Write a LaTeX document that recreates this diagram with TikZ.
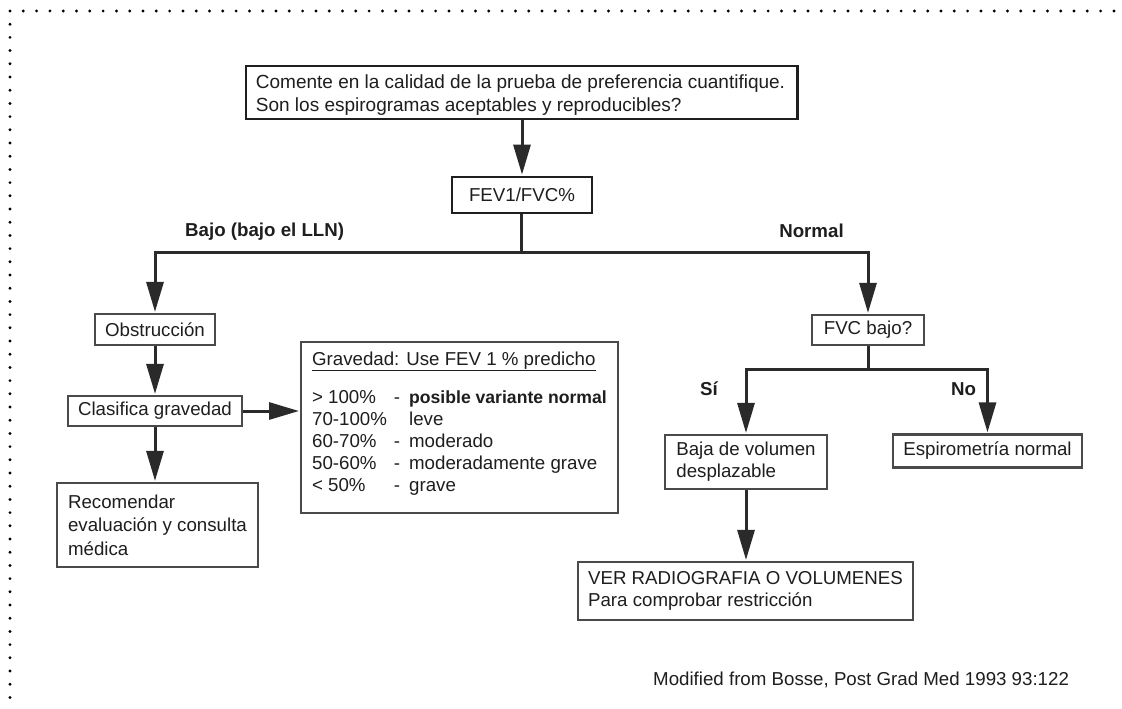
\documentclass[tikz,border=0pt]{standalone}
\usepackage{fontspec}
\setmainfont{Liberation Sans}
\usetikzlibrary{arrows.meta}
\definecolor{ink}{HTML}{1E1E1E}
\definecolor{frame}{HTML}{4A4A4A}
\definecolor{wire}{HTML}{2A2A2A}
\newcommand{\txtsize}{\fontsize{18.7}{22}\selectfont}
\newcommand{\loosesize}{\fontsize{18.7}{23.5}\selectfont}
\newcommand{\topsize}{\fontsize{19}{23}\selectfont}
\tikzset{
  box/.style={draw=frame, line width=2.2pt, fill=white, text=ink,
    font=\txtsize, inner xsep=10pt, inner ysep=0pt, rectangle},
  mainbox/.style={box, draw=black!88, line width=2.8pt},
  wireline/.style={draw=wire, line width=3pt, line join=miter},
  arrowline/.style={wireline, -{Triangle[length=30pt,width=17pt]}, shorten >=1pt},
  branchlabel/.style={text=ink, font=\txtsize\bfseries, inner sep=0pt},
  dotmark/.style={fill=black, draw=none}
}
\begin{document}
\begin{tikzpicture}[x=1pt,y=-1pt]
\useasboundingbox (0,0) rectangle (1122,709);
\fill[white] (0,0) rectangle (1122,709);

% dotted frame along the top and the left side
\foreach \i in {0,...,83} \fill[dotmark] (10+13.3*\i,11) circle (1.6pt);
\foreach \j in {1,...,52} \fill[dotmark] (10,11+13.2*\j) circle (1.6pt);

% boxes
\node[mainbox, font=\topsize, minimum width=551pt, minimum height=53pt, align=left]
  (top) at (521.5,92.5) {\raisebox{0pt}[\dimexpr\height+5pt\relax][\depth]{%
  \begin{tabular}{@{}l@{}}Comente en la calidad de la prueba de preferencia cuantifique.\\Son los espirogramas aceptables y reproducibles?\end{tabular}}\hspace{2pt}};
\node[mainbox, minimum width=140pt, minimum height=36pt, align=center]
  (fev) at (522,195) {FEV1/FVC\%};
\node[box, minimum width=114pt, minimum height=31pt, align=center]
  (obs) at (155,329.5) {Obstrucción};
\node[box, minimum width=172pt, minimum height=30pt, align=center]
  (clas) at (155,411) {Clasifica gravedad};
\node[box, font=\loosesize, minimum width=201pt, minimum height=84pt, align=left]
  (rec) at (157.5,525) {Recomendar\\evaluación y consulta\\médica};
\node[box, anchor=north west, minimum width=314pt, minimum height=171pt, inner xsep=11pt, align=left]
  (grav) at (300,341) {\raisebox{0pt}[\height][\dimexpr\depth+8pt\relax]{%
  \begin{tabular}{@{}l@{\hspace{7pt}}l@{\hspace{9pt}}l@{}}
  \multicolumn{3}{@{}l@{}}{\underline{Gravedad: Use FEV 1 \% predicho}}\\[16pt]
  > 100\% & - & {\fontsize{17.6}{22}\selectfont\bfseries posible variante normal}\\
  70-100\% &  & leve\\
  60-70\% & - & moderado\\
  50-60\% & - & moderadamente grave\\
  < 50\% & - & grave
  \end{tabular}}};
\node[box, minimum width=112pt, minimum height=30pt, align=center]
  (fvc) at (868,330) {FVC bajo?};
\node[box, minimum width=162pt, minimum height=54pt, align=left]
  (baja) at (746,462) {Baja de volumen\\desplazable};
\node[box, minimum width=189pt, minimum height=33pt, align=center]
  (esp) at (987.5,451) {Espirometría normal};
\node[box, minimum width=329pt, minimum height=58pt, align=left]
  (ver) at (745.5,591) {VER RADIOGRAFIA O VOLUMENES\\Para comprobar restricción};

% branch points
\coordinate (split) at (521,252);
\coordinate (split2) at (868,369);

% connectors
\draw[arrowline] (top.south -| fev.north) -- (fev.north);
\draw[wireline] (fev.south -| split) -- (split);
\draw[arrowline] (split) -| (obs.north);
\draw[arrowline] (split) -| (fvc.north);
\draw[arrowline] (obs.south) -- (clas.north);
\draw[arrowline] (clas.south) -- (clas.south |- rec.north);
\draw[arrowline] (clas.east) -- (clas.east -| grav.west);
\draw[wireline] (fvc.south) -- (split2);
\draw[arrowline] (split2) -| (baja.north);
\draw[arrowline] (split2) -| (esp.north);
\draw[arrowline] (baja.south) -- (baja.south |- ver.north);

% branch labels
\node[branchlabel, anchor=west] (lbllow) at (185,232) {Bajo (bajo el LLN)};
\node[branchlabel] (lblnormal) at (811.5,231) {Normal};
\node[branchlabel] (lblyes) at (709,389) {Sí};
\node[branchlabel] (lblno) at (963.5,389) {No};

% source note
\node[text=ink, font=\txtsize, anchor=west, inner sep=0pt] (src) at (653,680)
  {Modified from Bosse, Post Grad Med 1993 93:122};
\end{tikzpicture}
\end{document}
